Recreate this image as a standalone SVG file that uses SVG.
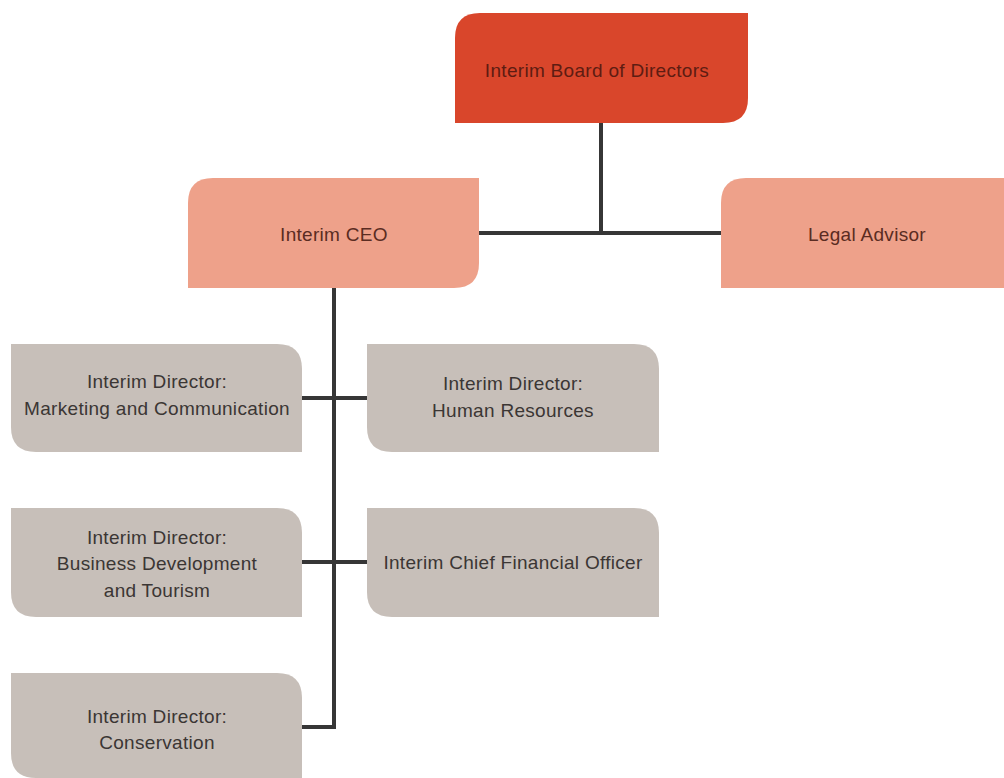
<svg xmlns="http://www.w3.org/2000/svg" width="1004" height="778" viewBox="0 0 1004 778">
<style>
.t{font-family:"Liberation Sans",Arial,sans-serif;font-size:19px;letter-spacing:0.3px;text-anchor:middle}
.red{fill:#d9462b}
.pink{fill:#eea18a}
.grey{fill:#c7bfb9}
.tr{fill:#5e1c12}
.tp{fill:#5a2c22}
.tg{fill:#3b3634}
.c{stroke:#363636;stroke-width:4;fill:none}
</style>
<rect width="1004" height="778" fill="#ffffff"/>
<g id="connectors">
<path class="c" d="M601 123V233M479 233H721"/>
<path class="c" d="M334 288V727H302"/>
<path class="c" d="M302 398H367"/>
<path class="c" d="M302 562H367" stroke-width="5"/>
</g>
<g id="board">
<path class="red" d="M480 13H748V98Q748 123 723 123H455V38Q455 13 480 13Z"/>
<text class="t tr" x="597" y="77">Interim Board of Directors</text>
</g>
<g id="ceo">
<path class="pink" d="M213 178H479V263Q479 288 454 288H188V203Q188 178 213 178Z"/>
<text class="t tp" x="334" y="241">Interim CEO</text>
</g>
<g id="legal">
<path class="pink" d="M746 178H1004V288H721V203Q721 178 746 178Z"/>
<text class="t tp" x="867" y="241">Legal Advisor</text>
</g>
<g id="marketing">
<path class="grey" d="M11 344H277Q302 344 302 369V452H36Q11 452 11 427Z"/>
<text class="t tg" x="157" y="388">Interim Director:</text>
<text class="t tg" x="157" y="415">Marketing and Communication</text>
</g>
<g id="hr">
<path class="grey" d="M367 344H634Q659 344 659 369V452H392Q367 452 367 427Z"/>
<text class="t tg" x="513" y="390">Interim Director:</text>
<text class="t tg" x="513" y="417">Human Resources</text>
</g>
<g id="business">
<path class="grey" d="M11 508H277Q302 508 302 533V617H36Q11 617 11 592Z"/>
<text class="t tg" x="157" y="544">Interim Director:</text>
<text class="t tg" x="157" y="570">Business Development</text>
<text class="t tg" x="157" y="597">and Tourism</text>
</g>
<g id="cfo">
<path class="grey" d="M367 508H634Q659 508 659 533V617H392Q367 617 367 592Z"/>
<text class="t tg" x="513" y="569">Interim Chief Financial Officer</text>
</g>
<g id="conservation">
<path class="grey" d="M11 673H277Q302 673 302 698V778H36Q11 778 11 753Z"/>
<text class="t tg" x="157" y="723">Interim Director:</text>
<text class="t tg" x="157" y="749">Conservation</text>
</g>
</svg>
